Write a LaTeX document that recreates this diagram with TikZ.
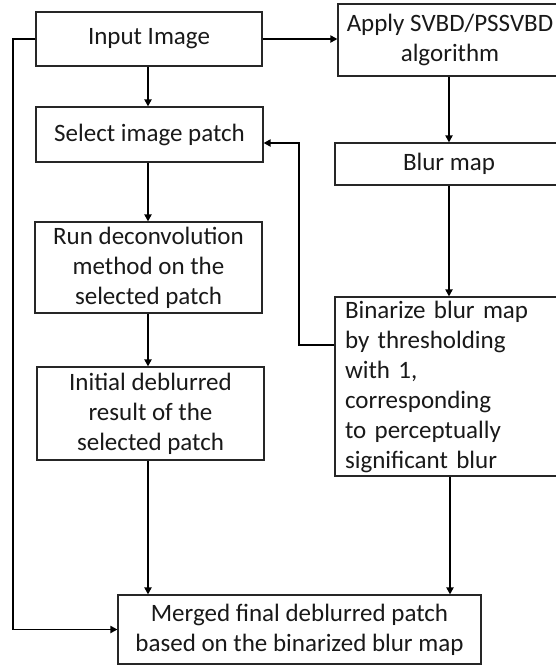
\documentclass[tikz,border=0pt]{standalone}
\usepackage{fontspec}
\setmainfont{Carlito}
\usetikzlibrary{arrows.meta}
\tikzset{
  box/.style={draw=black!85, line width=1.1pt, fill=white, inner sep=0pt,
    font=\fontsize{25}{30}\selectfont, align=center, text=black!90},
  conn/.style={line width=1.8pt, draw=black, -{Triangle[length=7pt,width=7pt]}},
}
\begin{document}
\begin{tikzpicture}[x=1pt,y=-1pt]
  \useasboundingbox (0,0) rectangle (556,665);
  \clip (0,0) rectangle (556,665);

  % left column
  \node[box, minimum width=226pt, minimum height=54pt] (in)   at (149,39)    {Input Image};
  \node[box, minimum width=227pt, minimum height=55pt] (sel)  at (149.5,134.5) {Select image patch};
  \node[box, minimum width=227pt, minimum height=91pt] (run)  at (148.5,267.5) {Run deconvolution\\method on the\\selected patch};
  \node[box, minimum width=227pt, minimum height=93pt] (init) at (150.5,413.5) {Initial deblurred\\result of the\\selected patch};

  % right column
  \node[box, minimum width=224pt, minimum height=72pt] (apply) at (450,40) {Apply SVBD/PSSVBD\\algorithm};
  \node[box, minimum width=228pt, minimum height=42pt] (blur)  at (449,164) {Blur map};
  \node[box, minimum height=179pt, text width=208pt, inner xsep=10pt, align=left] (bin) at (449,386.5)
    {Binarize blur map\\by thresholding\\with 1,\\corresponding\\to perceptually\\significant blur};

  % bottom
  \node[box, minimum width=363pt, minimum height=69pt] (merged) at (299.5,629.5)
    {Merged final deblurred patch\\based on the binarized blur map};

  % routing points
  \coordinate (lft) at (13,39);
  \coordinate (fbA) at (299,345);
  \coordinate (fbB) at (299,143);

  % connectors
  \draw[conn] (in.east) -- (in.east -| apply.west);
  \draw[conn] (148,0 |- in.south) -- (148,0 |- sel.north);
  \draw[conn] (148,0 |- sel.south) -- (148,0 |- run.north);
  \draw[conn] (148,0 |- run.south) -- (148,0 |- init.north);
  \draw[conn] (148,0 |- init.south) -- (148,0 |- merged.north);
  \draw[conn] (blur.north |- apply.south) -- (blur.north);
  \draw[conn] (blur.south) -- (bin.north);
  \draw[conn] (450,0 |- bin.south) -- (450,0 |- merged.north);
  \draw[conn] (fbA -| bin.west) -- (fbA) -- (fbB) -- (fbB -| sel.east);
  \draw[conn] (in.west) -- (lft) |- (merged.west);
\end{tikzpicture}
\end{document}
